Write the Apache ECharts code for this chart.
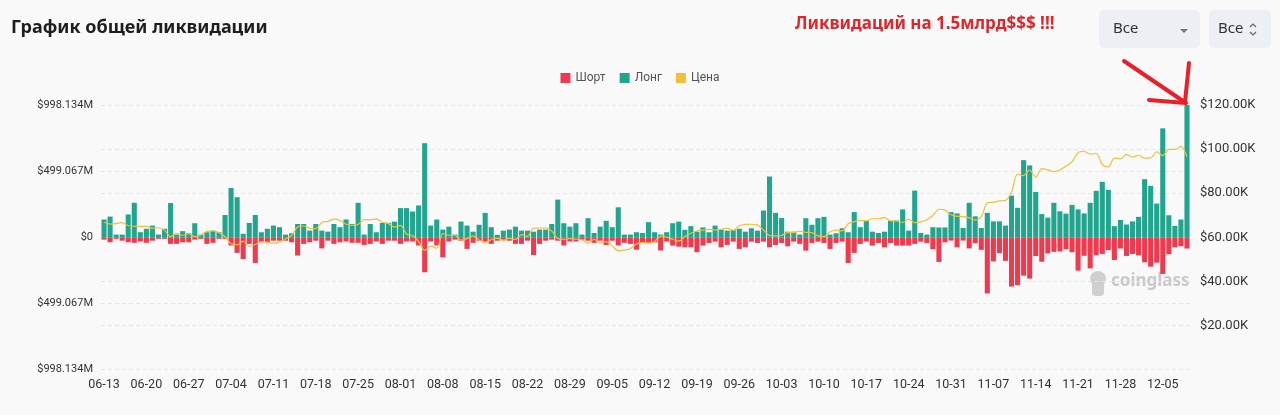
<!DOCTYPE html>
<html>
<head>
<meta charset="utf-8">
<script src="https://cdn.jsdelivr.net/npm/echarts@6/dist/echarts.min.js"></script>
<style>
html,body{margin:0;padding:0;background:#f9f9f9;}
#c{width:1280px;height:415px;}
</style>
</head>
<body>
<div id="c"></div>
<script>
// Categories (dates)
const dates = [
'06-13','06-14','06-15','06-16','06-17','06-18','06-19','06-20','06-21','06-22','06-23','06-24','06-25','06-26','06-27','06-28','06-29','06-30',
'07-01','07-02','07-03','07-04','07-05','07-06','07-07','07-08','07-09','07-10','07-11','07-12','07-13','07-14','07-15','07-16','07-17','07-18','07-19','07-20','07-21','07-22','07-23','07-24','07-25','07-26','07-27','07-28','07-29','07-30','07-31',
'08-01','08-02','08-03','08-04','08-05','08-06','08-07','08-08','08-09','08-10','08-11','08-12','08-13','08-14','08-15','08-16','08-17','08-18','08-19','08-20','08-21','08-22','08-23','08-24','08-25','08-26','08-27','08-28','08-29','08-30','08-31',
'09-01','09-02','09-03','09-04','09-05','09-06','09-07','09-08','09-09','09-10','09-11','09-12','09-13','09-14','09-15','09-16','09-17','09-18','09-19','09-20','09-21','09-22','09-23','09-24','09-25','09-26','09-27','09-28','09-29','09-30',
'10-01','10-02','10-03','10-04','10-05','10-06','10-07','10-08','10-09','10-10','10-11','10-12','10-13','10-14','10-15','10-16','10-17','10-18','10-19','10-20','10-21','10-22','10-23','10-24','10-25','10-26','10-27','10-28','10-29','10-30','10-31',
'11-01','11-02','11-03','11-04','11-05','11-06','11-07','11-08','11-09','11-10','11-11','11-12','11-13','11-14','11-15','11-16','11-17','11-18','11-19','11-20','11-21','11-22','11-23','11-24','11-25','11-26','11-27','11-28','11-29','11-30',
'12-01','12-02','12-03','12-04','12-05','12-06','12-07','12-08','12-09'
];

// Long liquidations, $M
const longs = [
134,156,20,20,172,260,38,64,88,20,
64,258,20,46,30,106,20,38,50,38,
168,372,302,26,108,168,38,64,88,76,
20,30,100,100,50,100,50,42,100,76,
134,100,260,20,100,38,108,108,118,220,
220,194,240,710,88,134,58,80,20,118,
88,42,94,184,76,18,50,58,80,50,
50,42,58,58,100,284,106,80,106,20,
144,32,80,124,76,226,20,20,38,32,
114,38,20,38,106,118,56,84,42,74,
38,88,58,50,56,64,42,68,50,202,
458,184,146,42,42,20,144,94,144,154,
20,30,68,38,190,76,126,42,32,42,
124,126,210,50,352,32,20,76,74,74,
190,180,70,260,158,70,184,120,120,88,
314,222,582,542,342,175,148,260,196,178,
244,210,180,260,350,418,358,84,130,96,
120,154,438,388,254,822,166,86,134,998.134
];

// Short liquidations, $M (drawn downward)
const shorts = [
18,38,12,26,38,42,32,42,26,12,
12,50,50,38,38,18,12,50,42,12,
12,62,118,164,50,194,38,38,26,26,
26,38,138,50,38,26,84,26,50,38,
32,42,42,58,50,32,50,26,26,50,
32,32,62,264,32,62,152,32,18,26,
88,42,26,32,50,26,18,26,50,50,
26,134,50,26,18,26,62,32,32,18,
26,42,26,58,26,62,42,50,94,42,
42,38,100,33,63,71,76,76,113,63,
43,33,76,58,33,88,76,33,43,33,
76,58,43,68,33,50,101,43,33,43,
88,43,33,194,118,50,33,63,43,76,
43,63,63,63,50,33,43,90,186,38,
25,76,25,84,45,95,424,182,120,178,
372,362,290,312,142,185,122,110,107,90,
113,252,140,235,135,126,97,172,85,141,
126,137,189,222,192,277,128,76,68,85
];

// Price, $K
const prices = [
66.8,66.0,66.2,66.6,65.2,65.0,64.9,64.9,64.1,64.3,63.2,60.3,61.8,60.9,61.6,60.3,60.9,62.7,
62.9,62.1,60.2,57.0,56.6,58.2,55.9,56.7,58.0,57.8,57.3,57.9,59.2,60.8,64.7,65.1,64.1,63.9,66.7,67.2,68.2,67.6,65.9,65.4,65.8,68.0,67.9,68.3,66.8,66.2,64.6,
65.4,61.5,60.7,58.1,54.0,56.0,55.0,61.7,60.9,60.9,58.7,59.4,60.6,58.7,57.5,58.9,59.5,58.4,59.5,59.0,61.2,60.4,64.1,64.2,64.2,62.8,59.4,59.0,59.4,59.1,58.9,
57.3,59.1,57.5,58.0,56.2,53.9,54.2,54.8,57.0,57.6,57.3,58.1,60.5,60.0,59.1,58.2,60.3,61.8,62.9,63.2,63.6,63.3,63.6,64.1,63.1,65.2,65.8,65.9,65.6,63.3,
60.8,60.6,60.8,62.1,62.1,62.8,62.2,62.1,60.6,60.3,62.5,63.2,62.9,66.1,67.1,67.6,67.4,68.4,68.4,69.0,67.4,67.4,66.7,68.2,66.6,67.0,67.9,69.9,72.7,72.3,70.2,
69.5,69.4,68.8,67.8,69.4,75.6,75.9,76.5,76.7,80.5,88.7,88.0,90.5,87.3,91.1,90.6,89.8,90.5,92.3,94.3,98.4,98.9,97.7,98.0,93.0,91.9,95.9,95.6,97.5,96.4,
97.2,95.9,96.0,98.8,97.0,99.9,99.9,101.2,96.5
];

const leftMax = 998.134, leftStep = 499.067;
const rightMax = 120, rightStep = 20;

const RED = '#ef3a4e', GREEN = '#22a58e', GOLD = '#f2c037';
const FONT = 'Roboto, "Noto Sans", sans-serif';

const chart = echarts.init(document.getElementById('c'), null, {renderer: 'canvas'});
chart.setOption({
  backgroundColor: '#f9f9f9',
  animation: false,
  textStyle: {fontFamily: FONT},
  legend: {
    top: 67, left: 'center', itemWidth: 10, itemHeight: 10, itemGap: 14, icon: 'rect',
    textStyle: {color: '#555', fontSize: 12, fontFamily: FONT},
    data: ['Шорт', 'Лонг', 'Цена']
  },
  grid: {left: 101, right: 90, top: 105, bottom: 45.5},
  xAxis: {
    type: 'category', data: dates, boundaryGap: true,
    axisLine: {show: false}, axisTick: {show: false},
    axisLabel: {interval: 6, color: '#333', fontSize: 12.5, margin: 9, fontFamily: FONT},
    splitLine: {show: false}
  },
  yAxis: [
    {
      type: 'value', min: -leftMax, max: leftMax, interval: leftStep, position: 'left',
      axisLine: {show: false}, axisTick: {show: false},
      axisLabel: {color: '#333', fontSize: 11, margin: 8, fontFamily: FONT,
        formatter: v => Math.abs(v) < 0.001 ? '$0' : '$' + Math.abs(v).toFixed(3) + 'M'},
      splitLine: {lineStyle: {color: '#e6e6e6', type: [4, 3]}}
    },
    {
      type: 'value', min: 0, max: rightMax, interval: rightStep, position: 'right',
      axisLine: {show: false}, axisTick: {show: false},
      axisLabel: {color: '#333', fontSize: 13, margin: 10, fontFamily: FONT,
        formatter: v => v === 0 ? '' : '$' + v.toFixed(2) + 'K'},
      splitLine: {lineStyle: {color: '#e6e6e6', type: [4, 3]}}
    }
  ],
  series: [
    {name: 'Шорт', type: 'bar', stack: 'liq', yAxisIndex: 0, barCategoryGap: '16%',
     itemStyle: {color: RED}, data: shorts.map(v => -v)},
    {name: 'Лонг', type: 'bar', stack: 'liq', yAxisIndex: 0, barCategoryGap: '16%',
     itemStyle: {color: GREEN}, data: longs},
    {name: 'Цена', type: 'line', yAxisIndex: 1, smooth: 0.3, showSymbol: false, z: 5,
     itemStyle: {color: GOLD}, lineStyle: {color: GOLD, width: 1.2}, data: prices}
  ],
  graphic: [
    {type: 'text', left: 11, top: 19, style: {text: 'График общей ликвидации', fill: '#1e1e1e',
      font: 'bold 18px "Noto Sans", "Open Sans", sans-serif'}},
    {type: 'text', left: 795, top: 16, style: {text: 'Ликвидаций на 1.5млрд$$$ !!!', fill: '#e0262b',
      font: 'bold 17px "Noto Sans", "Open Sans", sans-serif'}},
    {type: 'rect', shape: {x: 1099, y: 10, width: 101, height: 38, r: 5}, style: {fill: '#eceff3'}},
    {type: 'text', left: 1113, top: 21, style: {text: 'Все', fill: '#333', font: '15px "Noto Sans", sans-serif'}},
    {type: 'polygon', shape: {points: [[1180, 29], [1188, 29], [1184, 33]]}, style: {fill: '#777'}},
    {type: 'rect', shape: {x: 1209, y: 10, width: 62, height: 38, r: 5}, style: {fill: '#eceff3'}},
    {type: 'text', left: 1218, top: 21, style: {text: 'Все', fill: '#333', font: '15px "Noto Sans", sans-serif'}},
    {type: 'polyline', shape: {points: [[1250, 27], [1253, 24], [1256, 27]]}, style: {stroke: '#666', lineWidth: 1.2, fill: null}},
    {type: 'polyline', shape: {points: [[1250, 32], [1253, 35], [1256, 32]]}, style: {stroke: '#666', lineWidth: 1.2, fill: null}},
    // red hand-drawn arrow
    {type: 'polyline', shape: {points: [[1124, 61], [1183, 101]]}, style: {stroke: '#e8202a', lineWidth: 4, lineCap: 'round', fill: null}, z: 100},
    {type: 'polyline', shape: {points: [[1189, 63], [1185, 102]]}, style: {stroke: '#e8202a', lineWidth: 4, lineCap: 'round', fill: null}, z: 100},
    {type: 'polyline', shape: {points: [[1149, 100], [1186, 103]]}, style: {stroke: '#e8202a', lineWidth: 4, lineCap: 'round', fill: null}, z: 100},
    // watermark
    {type: 'circle', shape: {cx: 1098, cy: 279, r: 8}, style: {fill: '#cfcfcf'}},
    {type: 'rect', shape: {x: 1092, y: 280, width: 12, height: 16, r: 4}, style: {fill: '#cfcfcf'}},
    {type: 'text', left: 1111, top: 273, style: {text: 'coinglass', fill: '#c9c9c9', font: 'bold 17px "Noto Sans", sans-serif'}}
  ]
});
</script>
</body>
</html>
